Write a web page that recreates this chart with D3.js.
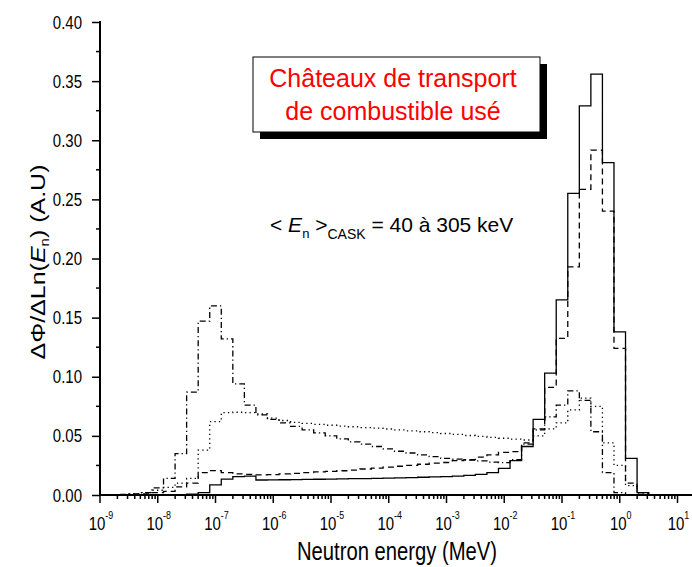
<!DOCTYPE html>
<head>
<meta charset="utf-8">
<script src="https://d3js.org/d3.v7.min.js"></script>
<style>
body { margin:0; background:#fff; }
text { font-family: "Liberation Sans", Arial, sans-serif; }
</style>
</head>
<body>
<script>

// bin edges, log10(E / MeV)
var binEdgesLog = [-9.1,-8.9,-8.7,-8.5,-8.3,-8.1,-7.9,-7.7,-7.5,-7.3,-7.1,-6.9,-6.7,-6.5,-6.3,-6.1,-5.9,-5.7,-5.5,-5.3,
  -5.1,-4.9,-4.7,-4.5,-4.3,-4.1,-3.9,-3.7,-3.5,-3.3,-3.1,-2.9,-2.7,-2.5,-2.3,-2.1,-1.9,-1.7,-1.5,-1.3,
  -1.1,-0.9,-0.7,-0.5,-0.3,-0.1,0.1,0.3,0.5,0.7,0.9];

var solid = [0,0,0,0,0,0,0,0.0003,0.0008,0.002,0.0085,0.0135,0.0155,0.016,0.0127,0.0128,0.0129,0.013,0.0132,0.0133,
  0.0134,0.0136,0.0138,0.0139,0.0141,0.0143,0.0145,0.0147,0.015,0.0153,0.0156,0.016,0.0166,0.0175,0.019,0.0225,0.029,0.041,0.064,0.103,
  0.165,0.255,0.329,0.356,0.281,0.138,0.031,0.002,0,0];
var dashed = [0,0,0,0.0005,0.001,0.002,0.003,0.0068,0.010,0.019,0.0206,0.019,0.0178,0.0175,0.017,0.0172,0.0178,0.0183,0.019,0.0195,
  0.020,0.0205,0.021,0.022,0.0228,0.0235,0.0243,0.025,0.026,0.027,0.0275,0.029,0.030,0.032,0.034,0.036,0.0366,0.044,0.056,0.091,
  0.1325,0.193,0.2585,0.2917,0.240,0.124,0.010,0.002,0,0];
var dotted = [0,0,0.0003,0.001,0.002,0.004,0.0065,0.010,0.014,0.038,0.062,0.0696,0.070,0.0696,0.0685,0.065,0.063,0.0615,0.0605,0.0598,
  0.059,0.0583,0.0577,0.057,0.0565,0.0558,0.055,0.0543,0.0535,0.0528,0.052,0.0512,0.0503,0.0495,0.0487,0.048,0.0472,0.0465,0.050,0.056,
  0.061,0.072,0.082,0.075,0.044,0.025,0.008,0.001,0,0];
var dashdot = [0,0,0.0005,0.001,0.002,0.006,0.014,0.035,0.087,0.147,0.160,0.132,0.094,0.076,0.0677,0.064,0.061,0.058,0.055,0.0525,
  0.050,0.0475,0.045,0.043,0.041,0.039,0.037,0.0355,0.034,0.0325,0.031,0.0303,0.0296,0.0288,0.0278,0.0273,0.030,0.043,0.055,0.066,
  0.076,0.088,0.080,0.0535,0.019,0.002,0,0,0,0];

var seriesList = [
  {values: dotted, dash: "1.3,3.2"},
  {values: dashdot, dash: "6,3,1.3,3"},
  {values: dashed, dash: "6,4"},
  {values: solid, dash: null}
];

var yTicks = [0, 0.05, 0.10, 0.15, 0.20, 0.25, 0.30, 0.35, 0.40];
var xDecades = [-9,-8,-7,-6,-5,-4,-3,-2,-1,0,1];

var width = 692, height = 567;
var mL = 100, mR = 677.5, mT = 22, mB = 495;
var squeeze = 0.81; // axis text is narrower than normal

var svg = d3.select("body").append("svg")
    .attr("width", width)
    .attr("height", height);

var x = d3.scaleLog().domain([1e-9, 1e1]).range([mL, mR]);
var y = d3.scaleLinear().domain([0, 0.4]).range([mB, mT]);

svg.append("clipPath").attr("id", "clip")
  .append("rect").attr("x", mL).attr("y", 0).attr("width", width - mL).attr("height", mB + 1);

var line = d3.line()
    .x(function(d) { return x(Math.pow(10, d[0])); })
    .y(function(d) { return y(d[1]); })
    .curve(d3.curveStepAfter);

seriesList.forEach(function(s) {
  var pts = s.values.map(function(v, i) { return [binEdgesLog[i], v]; });
  pts.push([binEdgesLog[s.values.length], s.values[s.values.length - 1]]);
  svg.append("path")
    .attr("clip-path", "url(#clip)")
    .attr("d", line(pts))
    .attr("fill", "none")
    .attr("stroke", "#000")
    .attr("stroke-width", 1.3)
    .attr("stroke-dasharray", s.dash);
});

// y axis
var yAxis = d3.axisLeft(y).tickValues(yTicks).tickFormat("").tickSize(8);
var gy = svg.append("g").attr("transform", "translate(" + mL + ",0)").call(yAxis);
gy.select(".domain").remove();
gy.selectAll("line").attr("stroke-width", 1.5);
svg.append("g").selectAll("line")
  .data(d3.range(0.025, 0.4, 0.05))
  .enter().append("line")
  .attr("x1", mL - 4).attr("x2", mL)
  .attr("y1", function(d) { return y(d); }).attr("y2", function(d) { return y(d); })
  .attr("stroke", "#000").attr("stroke-width", 1.5);
svg.append("line").attr("x1", mL).attr("x2", mL).attr("y1", mT - 1).attr("y2", mB + 1)
  .attr("stroke", "#000").attr("stroke-width", 2);
svg.append("g").selectAll("text").data(yTicks).enter().append("text")
  .attr("transform", function(d) { return "translate(82," + (y(d) + 6.5) + ") scale(" + squeeze + ",1)"; })
  .attr("text-anchor", "end")
  .attr("font-size", 18.5)
  .text(d3.format(".2f"));

// x axis
var minor = [];
xDecades.forEach(function(d) {
  if (d < 1) for (var m = 2; m <= 9; m++) minor.push(m * Math.pow(10, d));
});
svg.append("g").selectAll("line").data(minor).enter().append("line")
  .attr("x1", function(d) { return x(d); }).attr("x2", function(d) { return x(d); })
  .attr("y1", mB).attr("y2", mB + 4)
  .attr("stroke", "#000").attr("stroke-width", 1.5);
svg.append("g").selectAll("line").data(xDecades).enter().append("line")
  .attr("x1", function(d) { return x(Math.pow(10, d)); }).attr("x2", function(d) { return x(Math.pow(10, d)); })
  .attr("y1", mB).attr("y2", mB + 8)
  .attr("stroke", "#000").attr("stroke-width", 1.5);
svg.append("line").attr("x1", mL - 1).attr("x2", width).attr("y1", mB).attr("y2", mB)
  .attr("stroke", "#000").attr("stroke-width", 2);

var xl = svg.append("g").selectAll("text").data(xDecades).enter().append("text")
  .attr("transform", function(d) { return "translate(" + (x(Math.pow(10, d)) + 1) + ",530) scale(" + squeeze + ",1)"; })
  .attr("text-anchor", "middle")
  .attr("font-size", 18.5);
xl.append("tspan").text("10");
xl.append("tspan").attr("dy", -11).attr("font-size", 11).text(function(d) { return d; });

svg.append("text")
  .attr("transform", "translate(397,560) scale(" + squeeze + ",1)")
  .attr("text-anchor", "middle")
  .attr("font-size", 25)
  .text("Neutron energy (MeV)");

// y title
var yt = svg.append("text")
  .attr("transform", "translate(45,262) rotate(-90) scale(1," + squeeze + ")")
  .attr("text-anchor", "middle")
  .attr("font-size", 25);
yt.append("tspan").text("\u0394\u03A6/\u0394Ln(");
yt.append("tspan").attr("font-style", "italic").text("E");
yt.append("tspan").attr("font-size", 15).attr("dy", 5).text("n");
yt.append("tspan").attr("dy", -5).text(") (A.U)");

// title box
svg.append("rect").attr("x", 260).attr("y", 64).attr("width", 287).attr("height", 75).attr("fill", "#000");
svg.append("rect").attr("x", 253).attr("y", 57).attr("width", 287).attr("height", 75)
  .attr("fill", "#fff").attr("stroke", "#000").attr("stroke-width", 1);
svg.append("text").attr("x", 393).attr("y", 87).attr("text-anchor", "middle")
  .attr("font-size", 25).attr("fill", "#ff0000").text("Ch\u00e2teaux de transport");
svg.append("text").attr("x", 393).attr("y", 120).attr("text-anchor", "middle")
  .attr("font-size", 25).attr("fill", "#ff0000").text("de combustible us\u00e9");

// mean energy note
var note = svg.append("text").attr("x", 270).attr("y", 232).attr("font-size", 21);
note.append("tspan").text("< ");
note.append("tspan").attr("font-style", "italic").text("E");
note.append("tspan").attr("font-size", 13).attr("dy", 6).text("n");
note.append("tspan").attr("dy", -6).text(" >");
note.append("tspan").attr("font-size", 14).attr("dy", 7).text("CASK");
note.append("tspan").attr("dy", -7).text(" = 40 \u00e0 305 keV");

</script>
</body>
